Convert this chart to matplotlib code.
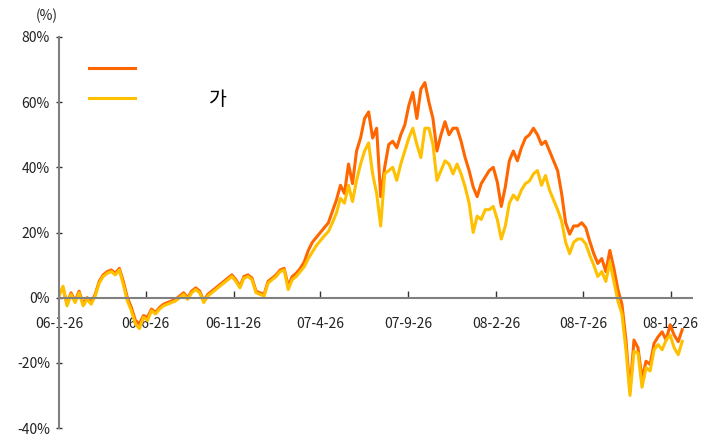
import pandas as pd
import matplotlib.pyplot as plt
from matplotlib.ticker import FuncFormatter

plt.rcParams['font.family'] = ['Noto Sans CJK KR', 'DejaVu Sans']

# weekly readings (%), starting 2006-01-26
series_a = [1, 3, -2, 1.5, -1, 2, -2, 0, -1.5, 1, 5, 7, 8, 8.5, 7.5, 9, 5, 0, -3, -7,
            -8, -5.5, -6, -3.5, -4.5, -3, -2, -1.5, -1, -0.5, 0.5, 1.5, 0, 2, 3, 2, -1, 1, 2, 3,
            4, 5, 6, 7, 5.5, 3.5, 6.5, 7, 6, 2, 1.5, 1, 5, 6, 7, 8.5, 9, 3.5, 6.5, 7.5,
            9, 11, 14.5, 17, 18.5, 20, 21.5, 23, 26.5, 30, 34.5, 32, 41, 35, 45, 49, 55, 57, 49, 52,
            31, 40, 47, 48, 46, 50, 53, 59, 63, 55, 64, 66, 60, 55, 45, 50, 54, 50, 52, 52,
            48, 43, 39, 34, 31, 35, 37, 39, 40, 35.5, 28, 34, 42, 45, 42, 46, 49, 50, 52, 50,
            47, 48, 45, 42, 39, 32, 23, 19.5, 22, 22, 23, 21.5, 17.3, 13.5, 10.5, 12, 8, 14.5, 9, 2.5,
            -2, -13, -28.7, -13, -15.4, -25, -19.5, -20.5, -14, -12, -10.5, -13, -8.3, -11.5, -13.5, -9.8]
series_b = [0.5, 3.5, -2.5, 1, -1.5, 1.5, -2.5, -0.5, -2, 0.5, 4.5, 6.5, 7.5, 8, 7, 8.5, 4, -1, -4, -8,
            -9.5, -6, -7, -4, -5, -3.5, -2.5, -2, -1.5, -1, 0, 1, -0.5, 1.5, 2.5, 1.5, -1.5, 0.5, 1.5, 2.5,
            3.5, 4.5, 5.5, 6.5, 5, 3, 6, 6.5, 5.5, 1.5, 1, 0.5, 4.5, 5.5, 6.5, 8, 8.5, 2.5, 5.5, 6.5,
            8, 9.5, 12, 14, 16, 17.5, 19, 20.3, 23, 26, 30.5, 29, 34.5, 29.5, 36, 41, 45, 47.5, 38, 32,
            22, 38, 39, 40, 36, 41, 45, 49, 52, 47, 43, 52, 52, 47, 36, 39, 42, 41, 38, 41,
            38, 34, 29, 20, 25, 24, 27, 27, 28, 24, 18, 22, 29, 31.5, 30, 33, 35, 35.8, 38, 39,
            34.5, 37.5, 33, 30, 27, 23.5, 17, 13.5, 17, 18, 18, 16.5, 13, 10, 6.5, 8, 5, 11, 5, -1,
            -5, -16, -30, -16.5, -17, -27.5, -21.5, -22.5, -16, -14.4, -16, -13, -11.5, -15.4, -17.5, -13.4]
labels = [' ', '가']
tick_dates = ['2006-01-26', '2006-06-26', '2006-11-26', '2007-04-26',
              '2007-09-26', '2008-02-26', '2008-07-26', '2008-12-26']

dates = pd.date_range('2006-01-26', periods=len(series_a), freq='7D')

fig = plt.figure(figsize=(7.07, 4.37), dpi=100)
ax = fig.add_axes([59 / 707, 9 / 437, 633 / 707, 391 / 437])

ax.plot(dates, series_a, color='#ff6600', lw=2.2, label=labels[0])
ax.plot(dates, series_b, color='#ffc000', lw=2.2, label=labels[1])

ax.set_ylim(-40, 80)
ax.set_yticks(range(-40, 81, 20))
ax.yaxis.set_major_formatter(FuncFormatter(lambda v, p: f'{v:.0f}%'))
ax.set_xlim(pd.Timestamp('2006-01-26'), pd.Timestamp('2009-02-01'))
ticks = pd.to_datetime(tick_dates)
ax.set_xticks(ticks)
ax.set_xticklabels([f'{d:%y}-{d.month}-{d.day}' for d in ticks])

for s in ['top', 'right']:
    ax.spines[s].set_visible(False)
ax.spines['left'].set_color('#808080')
ax.spines['left'].set_linewidth(1.5)
ax.spines['bottom'].set_position(('data', 0))
ax.spines['bottom'].set_color('#808080')
ax.spines['bottom'].set_linewidth(1.5)
ax.tick_params(axis='y', direction='inout', length=5, width=1, color='#333333',
               labelsize=10, labelcolor='#222222', pad=4)
ax.tick_params(axis='x', direction='in', length=5, width=1, color='#333333',
               labelsize=10, labelcolor='#222222', pad=14)

ax.text(-0.02, 1.055, '(%)', transform=ax.transAxes, ha='center', va='center',
        fontsize=10, color='#222222')

ax.legend(loc='upper left', bbox_to_anchor=(0.019, 0.99), frameon=False,
          handlelength=2.4, handletextpad=3.8, labelspacing=0.5, fontsize=14)

fig.savefig('out.png', dpi=100)
